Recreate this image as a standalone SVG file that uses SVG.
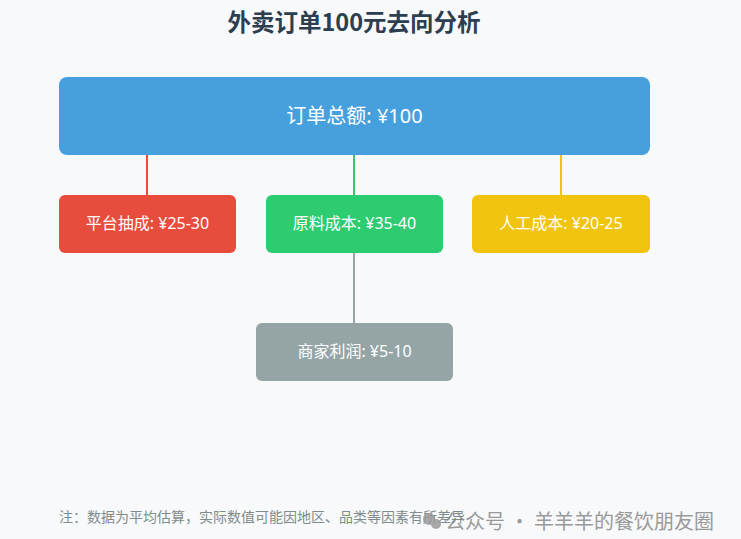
<svg xmlns="http://www.w3.org/2000/svg" width="741" height="539" viewBox="0 0 741 539">
<style>
.t{font-family:"Noto Sans","Noto Sans CJK SC",sans-serif;fill:#fff;text-anchor:middle;dominant-baseline:central}
.box{stroke:none}
.ln{stroke-width:2;fill:none}
</style>
<rect width="741" height="539" fill="#f8f9fa"/>
<text x="354" y="21" font-family="Noto Sans CJK SC, Noto Sans, sans-serif" font-size="23.5" font-weight="bold" fill="#2c3e50" text-anchor="middle" dominant-baseline="central">外卖订单100元去向分析</text>
<g id="connectors">
<line class="ln" x1="147" y1="155" x2="147" y2="195" stroke="#e74c3c"/>
<line class="ln" x1="354" y1="155" x2="354" y2="195" stroke="#2ecc71"/>
<line class="ln" x1="561" y1="155" x2="561" y2="195" stroke="#f1c40f"/>
<line class="ln" x1="354" y1="253" x2="354" y2="323" stroke="#95a5a6"/>
</g>
<g id="total">
<rect class="box" x="59" y="77" width="591" height="78" rx="8" fill="#47a0de"/>
<text class="t" x="354.5" y="115" font-size="20">订单总额: ¥100</text>
</g>
<g id="platform">
<rect class="box" x="59" y="195" width="177" height="58" rx="6" fill="#e74c3c"/>
<text class="t" x="147.5" y="223" font-size="16">平台抽成: ¥25-30</text>
</g>
<g id="material">
<rect class="box" x="266" y="195" width="177" height="58" rx="6" fill="#2ecc71"/>
<text class="t" x="354.5" y="223" font-size="16">原料成本: ¥35-40</text>
</g>
<g id="labor">
<rect class="box" x="472" y="195" width="178" height="58" rx="6" fill="#f1c40f"/>
<text class="t" x="561" y="223" font-size="16">人工成本: ¥20-25</text>
</g>
<g id="profit">
<rect class="box" x="256" y="323" width="197" height="58" rx="6" fill="#95a5a6"/>
<text class="t" x="354.5" y="351" font-size="16">商家利润: ¥5-10</text>
</g>
<text x="59" y="516" font-family="Noto Sans CJK SC, sans-serif" font-size="14" fill="#7f8c8d" dominant-baseline="central">注：数据为平均估算，实际数值可能因地区、品类等因素有所差异</text>
<g id="watermark" opacity="0.85">
<circle cx="429" cy="519" r="6" fill="#9a9a9a"/>
<circle cx="436" cy="524" r="5" fill="#9a9a9a"/>
<text x="445" y="520" font-family="Noto Sans CJK SC, sans-serif" font-size="20" fill="#8a8a8a" dominant-baseline="central">公众号 · 羊羊羊的餐饮朋友圈</text>
</g>
</svg>
